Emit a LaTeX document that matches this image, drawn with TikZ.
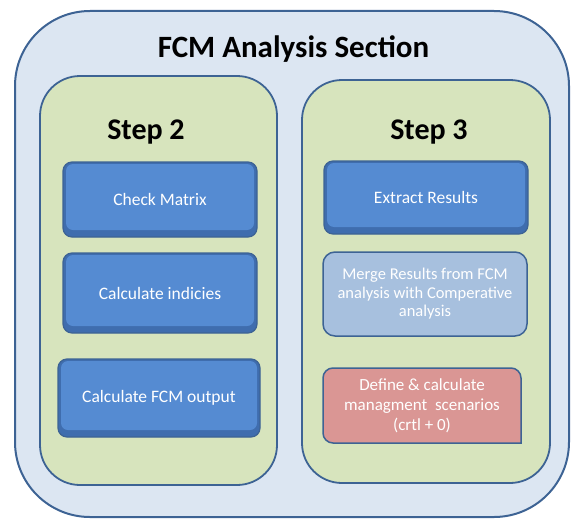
\documentclass[tikz,border=0pt]{standalone}
\usepackage{fontspec}
\setmainfont{Carlito}
\usepackage{tikz}
\usetikzlibrary{positioning}
\definecolor{sectionfill}{HTML}{DCE6F2}
\definecolor{edgeblue}{HTML}{3D6394}
\definecolor{panelgreen}{HTML}{D7E4BD}
\definecolor{taskdark}{HTML}{3F6DAE}
\definecolor{taskface}{HTML}{558BD2}
\definecolor{mergefill}{HTML}{A7C0DE}
\definecolor{scenariofill}{HTML}{DA9694}

\begin{document}
\begin{tikzpicture}[
  x=1pt, y=-1pt,
  every node/.style={align=center, text centered},
  section/.style={rectangle, rounded corners=75pt, draw=edgeblue, line width=2pt, fill=sectionfill},
  panel/.style={rectangle, rounded corners=40pt, draw=edgeblue, line width=1.8pt, fill=panelgreen},
  step_label/.style={font=\fontsize{30}{36}\selectfont\bfseries, anchor=base},
  task/.style={rectangle, rounded corners=9pt, draw=edgeblue, line width=1.2pt, fill=taskdark, text=white,
    font=\fontsize{17.5}{21}\selectfont,
    path picture={\fill[taskface, rounded corners=7pt] ([shift={(3pt,-2pt)}]path picture bounding box.north west) rectangle ([shift={(-3pt,7pt)}]path picture bounding box.south east);}},
  merge_box/.style={rectangle, rounded corners=12pt, draw=edgeblue, line width=1.5pt, fill=mergefill, text=white,
    font=\fontsize{16.5}{18.5}\selectfont},
  scenario/.style={draw=edgeblue, line width=1.5pt, fill=scenariofill},
  scenario_text/.style={text=white, font=\fontsize{17}{20}\selectfont}
]
\useasboundingbox (0,0) rectangle (572,519);

% Section frame
\node[section, minimum width=554pt, minimum height=506pt] (section) at (292,264) {};
\node[font=\fontsize{31}{37}\selectfont\bfseries, anchor=base] (title) at (293.5,57) {FCM Analysis Section};

% Step 2
\node[panel, minimum width=237pt, minimum height=409pt] (panel2) at (158.5,280.5) {};
\node[step_label] (step2) at (146,139) {Step 2};
\node[task, minimum width=194pt, minimum height=75pt] (check) at (160,199.5) {Check Matrix};
\node[task, minimum width=194pt, minimum height=80pt] (indices) at (160,293) {Calculate indicies};
\node[task, minimum width=202pt, minimum height=78pt] (fcmout) at (159,398) {Calculate FCM output};

% Step 3
\node[panel, minimum width=248pt, minimum height=403pt] (panel3) at (426,281.5) {};
\node[step_label] (step3) at (429,139) {Step 3};
\node[task, minimum width=204pt, minimum height=73pt] (extract) at (426,197.5) {Extract Results};
\node[merge_box, minimum width=204pt, minimum height=84pt] (merge) at (425,294)
  {Merge Results from FCM\\analysis with Comperative\\analysis};

% Scenario box, only the top corners rounded
\coordinate (defnw) at (323,368);
\coordinate (defse) at (521,443);
\filldraw[scenario] (defse) [rounded corners=10pt] |- (defnw) -- (defnw |- defse) [sharp corners] -- cycle;
\node[scenario_text] (define) at (422,405.5)
  {Define \& calculate\\managment~ scenarios\\(crtl + 0)};

\end{tikzpicture}
\end{document}
